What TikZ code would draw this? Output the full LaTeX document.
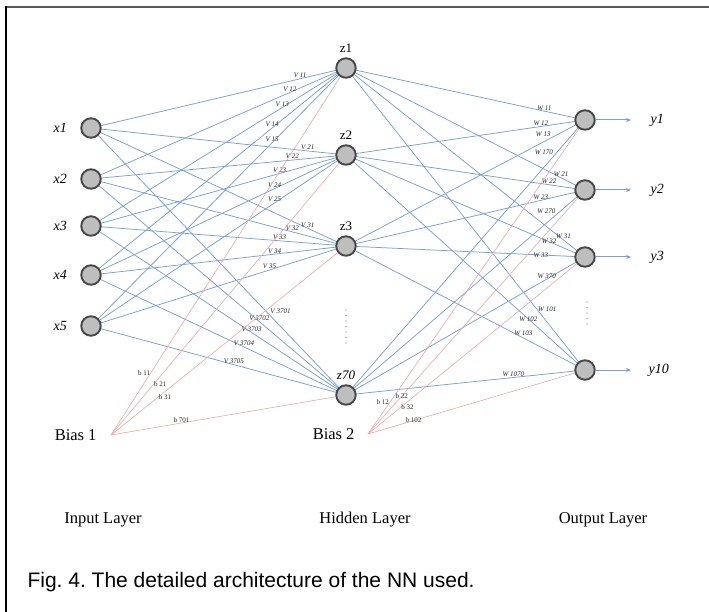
\documentclass[tikz,border=0pt]{standalone}
\usepackage{fontspec}
\setmainfont{Liberation Serif}
\newfontfamily\capfont{Liberation Sans}
\usetikzlibrary{arrows.meta,positioning,backgrounds}
\definecolor{nnblue}{RGB}{122,158,214}
\definecolor{nnpink}{RGB}{236,168,168}
\definecolor{nnfill}{RGB}{190,190,190}
\frenchspacing
\tikzset{
  nnunit/.style={circle, draw=black!72, line width=1.9pt, fill=nnfill, minimum size=19.5pt, inner sep=0pt},
  nnlink/.style={draw=nnblue, line width=0.75pt},
  nnbiaslink/.style={draw=nnpink, line width=0.6pt},
  nnout/.style={draw=nnblue, line width=1pt, -{Stealth[length=5pt,width=4pt]}},
  nnv/.style={font=\fontsize{7}{8}\selectfont\itshape, inner sep=0.6pt, text=black!85, anchor=south},
  nnw/.style={nnv},
  nnb/.style={font=\fontsize{7}{8}\selectfont, inner sep=0.6pt, text=black!85},
  nnname/.style={font=\fontsize{14}{16}\selectfont\itshape},
  nnhid/.style={font=\fontsize{13}{15}\selectfont},
  nnbias/.style={font=\fontsize{16.5}{19}\selectfont},
  nnlayer/.style={font=\fontsize{16.5}{19}\selectfont},
  nncap/.style={font=\capfont\fontsize{21}{25}\selectfont, anchor=west},
  nndots/.style={draw=black!55, line width=1.3pt, line cap=round, dash pattern=on 0pt off 5.5pt}
}

\begin{document}
\begin{tikzpicture}[x=1pt, y=-1pt]
  \useasboundingbox (0,0) rectangle (709,612);
  % frame
  \draw[black!65, line width=2pt] (5,7) -- (709,7);
  \draw[black, line width=2.4pt] (6,6) -- (6,612);

  % input layer
  \node[nnunit] (x1) at (91,128) {};
  \node[nnunit] (x2) at (91,179) {};
  \node[nnunit] (x3) at (91,226) {};
  \node[nnunit] (x4) at (91,275) {};
  \node[nnunit] (x5) at (91,326) {};
  \node[nnname, left=10pt of x1] (x1lab) {x1};
  \node[nnname, left=10pt of x2] (x2lab) {x2};
  \node[nnname, left=10pt of x3] (x3lab) {x3};
  \node[nnname, left=10pt of x4] (x4lab) {x4};
  \node[nnname, left=10pt of x5] (x5lab) {x5};

  % hidden layer
  \node[nnunit] (z1) at (346,68) {};
  \node[nnunit] (z2) at (346,155) {};
  \node[nnunit] (z3) at (346,246) {};
  \node[nnunit] (z70) at (346,395) {};
  \node[nnhid, above=1pt of z1] (z1lab) {z1};
  \node[nnhid, above=1pt of z2] (z2lab) {z2};
  \node[nnhid, above=1pt of z3] (z3lab) {z3};
  \node[nnhid, above=1pt of z70, font=\fontsize{13}{15}\selectfont\itshape] (z70lab) {z70};
  \coordinate (zdtop) at (346,310);
  \coordinate (zdbot) at (346,343);
  \draw[nndots] (zdtop) -- (zdbot);

  % output layer
  \node[nnunit] (y1) at (585,120) {};
  \node[nnunit] (y2) at (585,190) {};
  \node[nnunit] (y3) at (585,257) {};
  \node[nnunit] (y10) at (585,370) {};
  \coordinate (o1) at (631,120);
  \coordinate (o2) at (631,190);
  \coordinate (o3) at (631,257);
  \coordinate (o10) at (631,370);
  \draw[nnout] (y1) -- (o1);
  \draw[nnout] (y2) -- (o2);
  \draw[nnout] (y3) -- (o3);
  \draw[nnout] (y10) -- (o10);
  \node[nnname, right=16pt of o1] (y1lab) {y1};
  \node[nnname, right=16pt of o2] (y2lab) {y2};
  \node[nnname, right=16pt of o3] (y3lab) {y3};
  \node[nnname, right=14pt of o10] (y10lab) {y10};
  \coordinate (ydtop) at (587,302);
  \coordinate (ydbot) at (587,325);
  \draw[nndots] (ydtop) -- (ydbot);

  % biases
  \coordinate (b1in) at (111,435);
  \coordinate (b2in) at (368,434);
  \node[nnbias, left=11pt of b1in] (bias1) {Bias 1};
  \node[nnbias, left=10pt of b2in] (bias2) {Bias 2};

  \node[nnlayer] (inlayer) at (103,520) {Input Layer};
  \node[nnlayer] (hidlayer) at (365,520) {Hidden Layer};
  \node[nnlayer] (outlayer) at (603,520) {Output Layer};
  \node[nncap] (cap) at (24,582) {Fig. 4. The detailed architecture of the NN used.};

  \begin{scope}[on background layer]
    % input -> hidden
    \draw[nnlink] (x1.center) -- node[nnv, pos=.82] (v11) {V 11} (z1.center);
    \draw[nnlink] (x2.center) -- node[nnv, pos=.78] (v12) {V 12} (z1.center);
    \draw[nnlink] (x3.center) -- node[nnv, pos=.75] (v13) {V 13} (z1.center);
    \draw[nnlink] (x4.center) -- node[nnv, pos=.71] (v14) {V 14} (z1.center);
    \draw[nnlink] (x5.center) -- node[nnv, pos=.71] (v15) {V 15} (z1.center);
    \draw[nnlink] (x1.center) -- node[nnv, pos=.85] (v21) {V 21} (z2.center);
    \draw[nnlink] (x2.center) -- node[nnv, pos=.79] (v22) {V 22} (z2.center);
    \draw[nnlink] (x3.center) -- node[nnv, pos=.74] (v23) {V 23} (z2.center);
    \draw[nnlink] (x4.center) -- node[nnv, pos=.72] (v24) {V 24} (z2.center);
    \draw[nnlink] (x5.center) -- node[nnv, pos=.72] (v25) {V 25} (z2.center);
    \draw[nnlink] (x1.center) -- node[nnv, pos=.85] (v31) {V 31} (z3.center);
    \draw[nnlink] (x2.center) -- node[nnv, pos=.79] (v32) {V 32} (z3.center);
    \draw[nnlink] (x3.center) -- node[nnv, pos=.74] (v33) {V 33} (z3.center);
    \draw[nnlink] (x4.center) -- node[nnv, pos=.72] (v34) {V 34} (z3.center);
    \draw[nnlink] (x5.center) -- node[nnv, pos=.70] (v35) {V 35} (z3.center);
    \draw[nnlink] (x1.center) -- node[nnv, pos=.70, anchor=south west] (v701) {V 3701} (z70.center);
    \draw[nnlink] (x2.center) -- node[nnv, pos=.66] (v702) {V 3702} (z70.center);
    \draw[nnlink] (x3.center) -- node[nnv, pos=.63] (v703) {V 3703} (z70.center);
    \draw[nnlink] (x4.center) -- node[nnv, pos=.60] (v704) {V 3704} (z70.center);
    \draw[nnlink] (x5.center) -- node[nnv, pos=.56] (v705) {V 3705} (z70.center);
    % hidden -> output
    \draw[nnlink] (z1.center) -- node[nnw, pos=.83] (w11) {W 11} (y1.center);
    \draw[nnlink] (z2.center) -- node[nnw, pos=.815] (w12) {W 12} (y1.center);
    \draw[nnlink] (z3.center) -- node[nnw, pos=.86, anchor=south east] (w13) {W 13} (y1.center);
    \draw[nnlink] (z70.center) -- node[nnw, pos=.87, anchor=south east] (w170) {W 170} (y1.center);
    \draw[nnlink] (z1.center) -- node[nnw, pos=.9] (w21) {W 21} (y2.center);
    \draw[nnlink] (z2.center) -- node[nnw, pos=.85] (w22) {W 22} (y2.center);
    \draw[nnlink] (z3.center) -- node[nnw, pos=.815] (w23) {W 23} (y2.center);
    \draw[nnlink] (z70.center) -- node[nnw, pos=.88, anchor=south east] (w270) {W 270} (y2.center);
    \draw[nnlink] (z1.center) -- node[nnw, pos=.91] (w31) {W 31} (y3.center);
    \draw[nnlink] (z2.center) -- node[nnw, pos=.85, anchor=center] (w32) {W 32} (y3.center);
    \draw[nnlink] (z3.center) -- node[nnw, pos=.815, anchor=center] (w33) {W 33} (y3.center);
    \draw[nnlink] (z70.center) -- node[nnw, pos=.84] (w370) {W 370} (y3.center);
    \draw[nnlink] (z1.center) -- node[nnw, pos=.8, anchor=west] (w101) {W 101} (y10.center);
    \draw[nnlink] (z2.center) -- node[nnw, pos=.763, anchor=center] (w102) {W 102} (y10.center);
    \draw[nnlink] (z3.center) -- node[nnw, pos=.70, anchor=west] (w103) {W 103} (y10.center);
    \draw[nnlink] (z70.center) -- node[nnw, pos=.70] (w1070) {W 1070} (y10.center);
    % bias lines
    \draw[nnbiaslink] (b1in) -- node[nnb, pos=.17, anchor=east] (b11) {b 11} (z1.center);
    \draw[nnbiaslink] (b1in) -- node[nnb, pos=.18, anchor=west] (b21) {b 21} (z2.center);
    \draw[nnbiaslink] (b1in) -- node[nnb, pos=.2, anchor=west] (b31) {b 31} (z3.center);
    \draw[nnbiaslink] (b1in) -- node[nnb, pos=.3, anchor=south] (b701) {b 701} (z70.center);
    \draw[nnbiaslink] (b2in) -- node[nnb, pos=.1, anchor=east] (b12) {b 12} (y1.center);
    \draw[nnbiaslink] (b2in) -- node[nnb, pos=.156] (b22) {b 22} (y2.center);
    \draw[nnbiaslink] (b2in) -- node[nnb, pos=.15, anchor=west] (b32) {b 32} (y3.center);
    \draw[nnbiaslink] (b2in) -- node[nnb, pos=.21] (b102) {b 102} (y10.center);
  \end{scope}
\end{tikzpicture}
\end{document}
